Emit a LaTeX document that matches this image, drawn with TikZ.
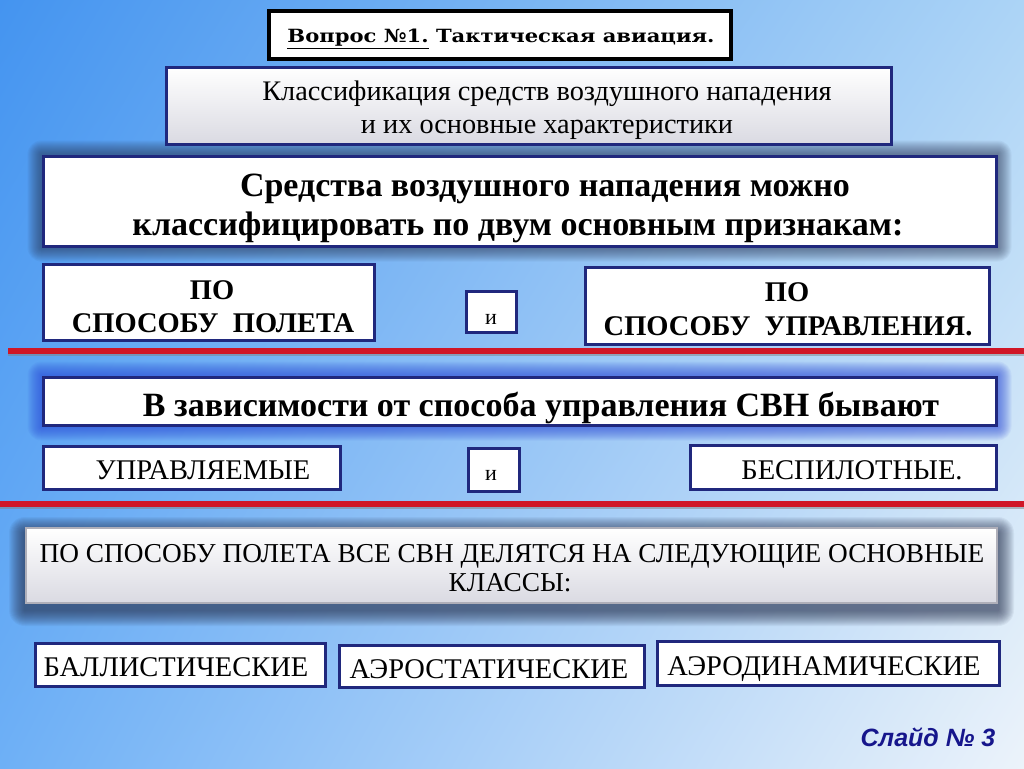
\documentclass[tikz,border=0pt]{standalone}
\usepackage{fontspec}
\setmainfont{Liberation Serif}
\newfontfamily\titlefont{DejaVu Serif}
\newfontfamily\slidefont{Liberation Sans}
\usetikzlibrary{calc,shadings}
\pgfdeclarelayer{bg}
\pgfsetlayers{bg,main}
\definecolor{navy}{RGB}{32,40,125}
\definecolor{bgul}{RGB}{68,148,240}
\definecolor{bgur}{RGB}{172,212,246}
\definecolor{bgll}{RGB}{110,176,246}
\definecolor{bglr}{RGB}{236,243,250}
\definecolor{redline}{RGB}{208,22,38}
\definecolor{darkglow}{RGB}{40,50,80}
\definecolor{blueglow}{RGB}{40,70,215}
\definecolor{slideblue}{RGB}{22,22,140}
\definecolor{panelgray}{RGB}{218,218,226}
\newcommand{\boxglow}[5]{%
  \begin{pgfonlayer}{bg}
  \foreach \k in {1,...,#3}{
    \fill[#2, opacity=#4, rounded corners=\k pt]
      ([xshift=-\k pt,yshift=\k pt-#5]#1.north west) rectangle
      ([xshift=\k pt,yshift=-\k pt-#5]#1.south east);
  }
  \end{pgfonlayer}}
\begin{document}
\begin{tikzpicture}[x=1pt,y=-1pt,
  box/.style n args={2}{draw=navy, line width=3pt, fill=white, inner sep=0pt,
    minimum width=#1pt, minimum height=#2pt},
  txt/.style={inner sep=0pt, anchor=base, text=black},
  bold/.style={txt, font=\fontsize{34}{38}\selectfont\bfseries},
  boldsm/.style={txt, font=\fontsize{28.5}{32}\selectfont\bfseries},
  reg/.style={txt, font=\fontsize{28.5}{32}\selectfont},
  redbar/.style={fill=redline}]
\begin{pgfonlayer}{bg}
\shade[upper left=bgul, upper right=bgur, lower left=bgll, lower right=bglr]
  (0,0) rectangle (1024,768);
\end{pgfonlayer}
\useasboundingbox (0,0) rectangle (1024,768);

% title
\node[draw=black, line width=4pt, fill=white, minimum width=462pt, minimum height=48pt, inner sep=0pt] (title) at (500,35) {};
\node[txt] (titlet) at (501,42) {\resizebox{427pt}{13.5pt}{\titlefont\bfseries\underline{Вопрос №1.} Тактическая авиация.}};

% classification box
\node[box={725}{77}, top color=white, middle color=white, bottom color=panelgray] (b2) at (528.5,105.5) {};
\node[txt, font=\fontsize{28.3}{32}\selectfont] (b2a) at (547,100) {Классификация средств воздушного нападения};
\node[txt, font=\fontsize{28.3}{32}\selectfont] (b2b) at (547,133) {и их основные характеристики};

% main statement
\node[box={953}{90}] (b3) at (519.5,201) {};
\boxglow{b3}{darkglow}{14}{0.05}{0pt}
\node[bold] (b3a) at (545,196) {Средства воздушного нападения можно};
\node[bold] (b3b) at (518,235) {классифицировать по двум основным признакам:};

% two criteria
\node[box={331}{76}] (b4) at (208.5,302) {};
\node[boldsm] (b4a) at (212,299) {ПО};
\node[boldsm] (b4b) at (213,332) {СПОСОБУ\ \ ПОЛЕТА};
\node[box={50}{41}] (i1) at (491,311.5) {};
\node[txt, font=\fontsize{22}{26}\selectfont] (i1t) at (491,324) {и};
\node[box={404}{77}] (b6) at (787,305.5) {};
\node[boldsm] (b6a) at (787,301) {ПО};
\node[boldsm] (b6b) at (788,335) {СПОСОБУ\ \ УПРАВЛЕНИЯ.};

\fill[redline] (8,348) rectangle (1024,354);
\fill[gray, opacity=0.5] (8,354) rectangle (1024,356);

% control
\node[box={953}{48}] (b8) at (519.5,401) {};
\boxglow{b8}{blueglow}{14}{0.06}{0pt}
\node[bold] (b8t) at (541,416) {В зависимости от способа управления СВН бывают};
\node[box={297}{43}] (b9) at (191.5,467.5) {};
\node[reg] (b9t) at (203,479) {УПРАВЛЯЕМЫЕ};
\node[box={51}{43}] (i2) at (493.5,469.5) {};
\node[txt, font=\fontsize{22}{26}\selectfont] (i2t) at (491,480) {и};
\node[box={306}{44}] (b11) at (843,467) {};
\node[reg] (b11t) at (852,479) {БЕСПИЛОТНЫЕ.};

\fill[redline] (0,501) rectangle (1024,507);
\fill[gray, opacity=0.5] (0,507) rectangle (1024,509);

% flight classes
\node[draw={rgb,255:red,175;green,175;blue,185}, line width=2pt, top color=white, middle color=white, bottom color=panelgray, inner sep=0pt, minimum width=971pt, minimum height=75pt] (b13) at (511.5,565.5) {};
\boxglow{b13}{darkglow}{16}{0.06}{6pt}
\node[txt, font=\fontsize{27.3}{31}\selectfont] (b13a) at (512,562) {ПО СПОСОБУ ПОЛЕТА ВСЕ СВН ДЕЛЯТСЯ НА СЛЕДУЮЩИЕ ОСНОВНЫЕ};
\node[txt, font=\fontsize{27.3}{31}\selectfont] (b13b) at (510,591) {КЛАССЫ:};

\node[box={290}{43}] (c1) at (180,664.5) {};
\node[reg] (c1t) at (176,676) {БАЛЛИСТИЧЕСКИЕ};
\node[box={305}{42}] (c2) at (491.5,666) {};
\node[reg] (c2t) at (489,678) {АЭРОСТАТИЧЕСКИЕ};
\node[box={342}{44}] (c3) at (828,663) {};
\node[reg] (c3t) at (824,675) {АЭРОДИНАМИЧЕСКИЕ};

\node[txt, text=slideblue, font=\fontsize{25}{29}\slidefont\bfseries\itshape] (slide) at (928,746) {Слайд № 3};
\end{tikzpicture}
\end{document}
